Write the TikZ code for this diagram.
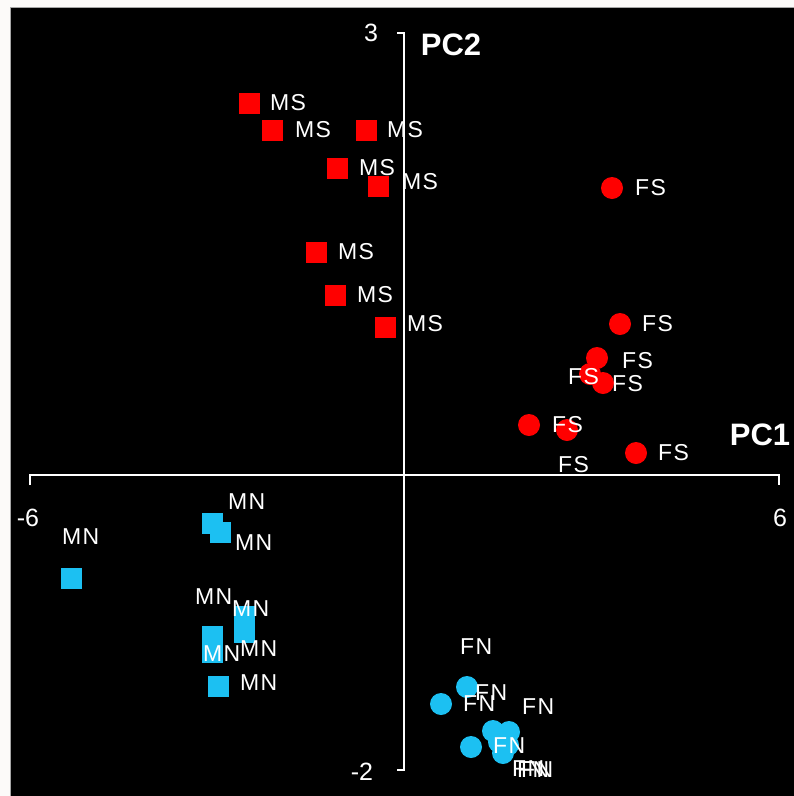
\documentclass[tikz,border=0pt]{standalone}
\usepackage{fontspec}
\setmainfont{Liberation Sans}
\definecolor{bgpale}{RGB}{252,250,249}
\definecolor{ptred}{RGB}{255,0,0}
\definecolor{ptblue}{RGB}{28,192,242}
\newcommand\plotlabfont{\fontsize{23}{23}\selectfont\addfontfeature{LetterSpace=6}}
\newcommand\plotnumfont{\fontsize{25}{25}\selectfont}
\newcommand\plotaxfont{\fontsize{31}{31}\selectfont\bfseries}
\tikzset{
  msq/.style={shape=rectangle, fill=ptred, minimum size=21pt, inner sep=0pt},
  fsc/.style={shape=circle, fill=ptred, minimum size=22pt, inner sep=0pt},
  mnq/.style={shape=rectangle, fill=ptblue, minimum size=21pt, inner sep=0pt},
  fnc/.style={shape=circle, fill=ptblue, minimum size=22pt, inner sep=0pt},
  lab/.style={text=white, inner sep=0pt, anchor=west, font=\plotlabfont},
  num/.style={text=white, inner sep=0pt, font=\plotnumfont},
  axlab/.style={text=white, inner sep=0pt, font=\plotaxfont},
  axline/.style={draw=white, line width=2pt}
}
\begin{document}
\begin{tikzpicture}[x=1pt,y=-1pt]
\useasboundingbox (0,0) rectangle (794,796);
\fill[bgpale] (0,0) rectangle (794,796);
\fill[black] (10,7) rectangle (794,796);
\draw[gray!70, line width=0.8pt] (10,796) -- (10,7) -- (794,7);
% markers
\foreach \x/\y [count=\i] in {249/103,272/130,366/130,337/168,378/186,316/252,335/295,385/327}
  \node[msq] (ms\i) at (\x,\y) {};
\foreach \x/\y [count=\i] in {612/188,620/324,597/358,590/374,603/383,529/425,567/430,636/453}
  \node[fsc] (fs\i) at (\x,\y) {};
\foreach \x/\y [count=\i] in {71/578,212/523,220/532,212/636,212/652,244/616,244/632,218/686}
  \node[mnq] (mn\i) at (\x,\y) {};
\foreach \x/\y [count=\i] in {467/687,441/704,471/747,493/731,509/732,499/742,503/753,508/745}
  \node[fnc] (fn\i) at (\x,\y) {};
% labels
\foreach \x/\y [count=\i] in {270/103,295/130,387/130,359/168,402/182,338/252,357/295,407/324}
  \node[lab] (lms\i) at (\x,\y) {MS};
\foreach \x/\y [count=\i] in {635/188,642/324,622/361,568/377,612/384,552/425,558/465,658/453}
  \node[lab] (lfs\i) at (\x,\y) {FS};
\foreach \x/\y [count=\i] in {62/537,228/502,235/543,195/597,232/609,203/654,240/649,240/683}
  \node[lab] (lmn\i) at (\x,\y) {MN};
\foreach \x/\y [count=\i] in {460/647,475/693,463/704,522/707,493/746,512/769,517/770,521/770}
  \node[lab] (lfn\i) at (\x,\y) {FN};
% axes
\coordinate (xl) at (30,475);
\coordinate (xr) at (779,475);
\coordinate (xlt) at (30,485);
\coordinate (xrt) at (779,485);
\coordinate (yt) at (404,33);
\coordinate (yb) at (404,770);
\coordinate (ytt) at (397,33);
\coordinate (ybt) at (397,770);
\draw[axline] (xlt) -- (xl) -- (xr) -- (xrt);
\draw[axline] (ytt) -- (yt) -- (yb) -- (ybt);
% axis labels
\node[num] (n3) at (371,33) {3};
\node[num] (nm2) at (362,772) {-2};
\node[num] (nm6) at (28,518) {-6};
\node[num] (n6) at (780,518) {6};
\node[axlab] (pc2) at (451,45) {PC2};
\node[axlab] (pc1) at (760,435) {PC1};
\end{tikzpicture}
\end{document}
